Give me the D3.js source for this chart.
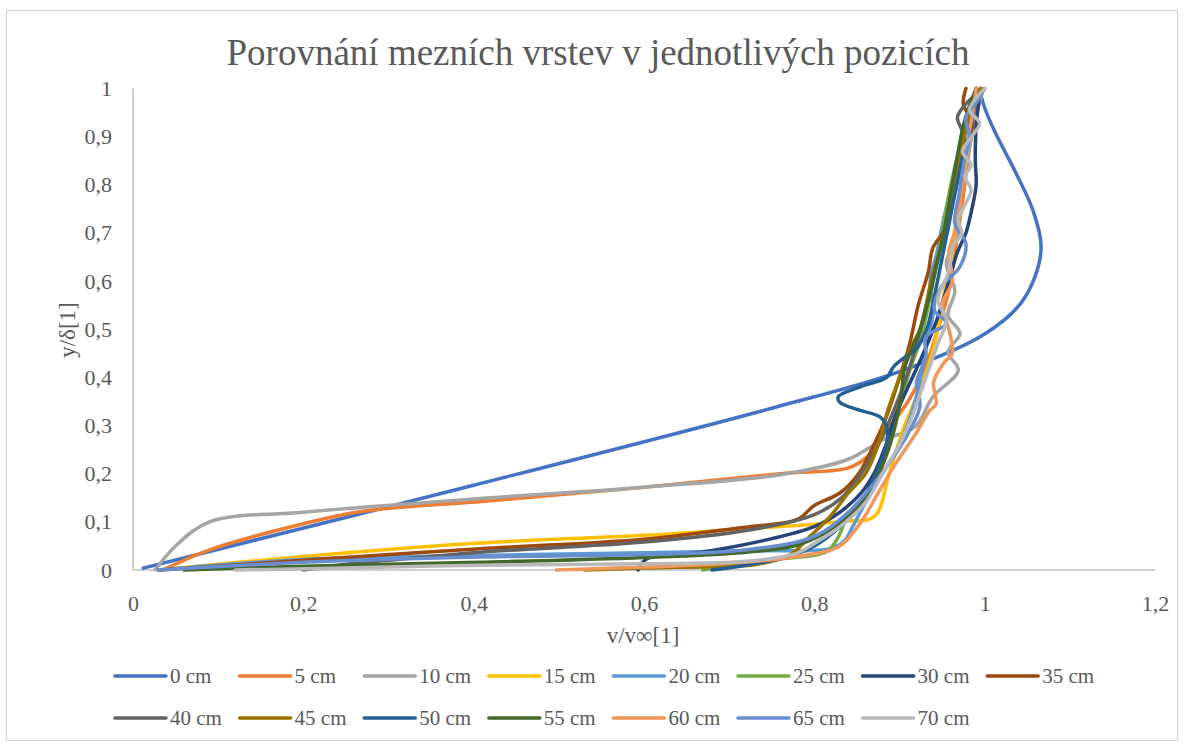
<!DOCTYPE html>
<html>
<head>
<meta charset="utf-8">
<title>Porovnání mezních vrstev</title>
<script src="https://cdn.jsdelivr.net/npm/d3@7/dist/d3.min.js"></script>
<style>
	body { margin: 0; background: #fff; }
	text { font-family: "Liberation Serif", "Times New Roman", serif; fill: #595959; }
	.grid line { stroke: #d9d9d9; stroke-width: 1.3; }
	.domain { display: none; }
	.tick line { display: none; }
</style>
</head>
<body>
<div id="chart"></div>
<script>
// popisky serii (vzdalenost od nabezne hrany)
var seriesNames = ["0 cm","5 cm","10 cm","15 cm","20 cm","25 cm","30 cm","35 cm",
	"40 cm","45 cm","50 cm","55 cm","60 cm","65 cm","70 cm"];
var seriesColors = ["#4472C4","#ED7D31","#A5A5A5","#FFC000","#5B9BD5","#70AD47","#264478","#9E480E",
	"#636363","#997300","#255E91","#43682B","#F1975A","#698ED0","#B9B9B9"];
var xTicks = [0,0.2,0.4,0.6,0.8,1,1.2];
var yTicks = [0,0.1,0.2,0.3,0.4,0.5,0.6,0.7,0.8,0.9,1];

/* [v/v_inf , y/delta] */
var s0 = [[0.012,0.004],[0.4,0.176],[0.75,0.336],[0.9,0.412],[1.0,0.49],[1.045,0.56],[1.066,0.66],[1.058,0.74],[1.038,0.82],[1.012,0.91],[1.0,0.96],[0.995,0.99]];
var s5 = [[0.035,0],[0.09,0.042],[0.2,0.096],[0.27,0.122],[0.42,0.144],[0.6,0.172],[0.76,0.2],[0.84,0.212],[0.862,0.235],[0.885,0.29],[0.91,0.35],[0.93,0.42],[0.945,0.5],[0.958,0.58],[0.965,0.66],[0.972,0.74],[0.978,0.82],[0.984,0.9],[0.99,0.96],[0.995,1.0]];
var s10 = [[0.026,0],[0.05,0.05],[0.09,0.1],[0.2,0.12],[0.42,0.15],[0.6,0.172],[0.76,0.198],[0.84,0.23],[0.88,0.27],[0.918,0.297],[0.939,0.359],[0.969,0.415],[0.957,0.453],[0.971,0.491],[0.957,0.529],[0.965,0.58],[0.955,0.637],[0.968,0.7],[0.972,0.78],[0.98,0.86],[0.99,0.94],[0.998,1.0]];
var s15 = [[0.03,0],[0.2,0.028],[0.407,0.056],[0.6,0.072],[0.72,0.086],[0.8,0.095],[0.84,0.102],[0.862,0.104],[0.874,0.118],[0.888,0.2],[0.904,0.29],[0.92,0.36],[0.935,0.43],[0.945,0.5],[0.952,0.57],[0.96,0.64],[0.966,0.72],[0.973,0.8],[0.98,0.88],[0.986,0.95],[0.99,1.0]];
var s20 = [[0.03,0],[0.2,0.022],[0.4,0.03],[0.6,0.036],[0.72,0.04],[0.82,0.045],[0.835,0.06],[0.845,0.09],[0.86,0.14],[0.88,0.2],[0.9,0.26],[0.915,0.33],[0.925,0.4],[0.932,0.47],[0.94,0.54],[0.936,0.6],[0.944,0.66],[0.952,0.73],[0.962,0.8],[0.972,0.87],[0.982,0.94],[0.99,1.0]];
var s25 = [[0.669,0],[0.681,0.003],[0.76,0.023],[0.814,0.038],[0.828,0.068],[0.836,0.1],[0.85,0.13],[0.868,0.18],[0.882,0.24],[0.893,0.3],[0.903,0.36],[0.913,0.42],[0.925,0.48],[0.934,0.55],[0.942,0.62],[0.95,0.7],[0.958,0.78],[0.968,0.86],[0.978,0.93],[0.99,1.0]];
var s30 = [[0.593,0],[0.603,0.023],[0.66,0.035],[0.74,0.061],[0.8,0.09],[0.83,0.12],[0.855,0.16],[0.87,0.2],[0.882,0.25],[0.895,0.32],[0.91,0.38],[0.928,0.45],[0.944,0.52],[0.958,0.6],[0.968,0.66],[0.978,0.7],[0.985,0.75],[0.99,0.8],[0.989,0.85],[0.99,0.92],[0.995,1.0]];
var s35 = [[0.03,0],[0.2,0.02],[0.407,0.044],[0.6,0.064],[0.72,0.089],[0.78,0.105],[0.8,0.134],[0.83,0.16],[0.852,0.2],[0.87,0.26],[0.885,0.32],[0.9,0.4],[0.912,0.47],[0.922,0.55],[0.934,0.62],[0.939,0.668],[0.955,0.713],[0.962,0.78],[0.972,0.85],[0.986,0.93],[0.975,0.966],[0.978,1.0]];
var s40 = [[0.2,0],[0.25,0.012],[0.3,0.02],[0.407,0.037],[0.6,0.058],[0.72,0.082],[0.8,0.115],[0.832,0.15],[0.855,0.2],[0.875,0.26],[0.893,0.33],[0.908,0.4],[0.92,0.47],[0.93,0.54],[0.94,0.61],[0.95,0.68],[0.958,0.75],[0.968,0.82],[0.977,0.88],[0.974,0.91],[0.968,0.94],[0.977,0.966],[0.995,0.995]];
var s45 = [[0.53,0],[0.6,0.004],[0.7,0.008],[0.73,0.011],[0.77,0.03],[0.795,0.07],[0.818,0.11],[0.84,0.16],[0.86,0.2],[0.875,0.26],[0.886,0.33],[0.9,0.4],[0.913,0.46],[0.924,0.5],[0.93,0.54],[0.937,0.6],[0.947,0.66],[0.955,0.72],[0.962,0.79],[0.97,0.86],[0.982,0.94],[0.995,1.0]];
var s50 = [[0.68,0],[0.72,0.01],[0.77,0.028],[0.8,0.05],[0.83,0.09],[0.855,0.14],[0.872,0.2],[0.884,0.25],[0.885,0.297],[0.877,0.318],[0.853,0.332],[0.83,0.348],[0.828,0.36],[0.853,0.38],[0.885,0.4],[0.893,0.422],[0.905,0.44],[0.918,0.456],[0.932,0.5],[0.94,0.56],[0.948,0.63],[0.956,0.7],[0.965,0.78],[0.975,0.86],[0.985,0.93],[0.99,1.0]];
var s55 = [[0.06,0],[0.2,0.008],[0.407,0.016],[0.6,0.026],[0.72,0.037],[0.78,0.052],[0.82,0.085],[0.85,0.13],[0.87,0.18],[0.885,0.24],[0.895,0.3],[0.902,0.36],[0.906,0.42],[0.924,0.498],[0.934,0.56],[0.943,0.63],[0.952,0.7],[0.96,0.78],[0.968,0.86],[0.976,0.93],[0.99,1.0]];
var s60 = [[0.497,0],[0.6,0.006],[0.7,0.014],[0.78,0.028],[0.83,0.05],[0.855,0.1],[0.875,0.16],[0.895,0.22],[0.918,0.28],[0.935,0.33],[0.943,0.345],[0.94,0.39],[0.952,0.43],[0.962,0.45],[0.958,0.5],[0.95,0.55],[0.962,0.6],[0.958,0.66],[0.968,0.72],[0.972,0.78],[0.976,0.84],[0.981,0.9],[0.986,0.95],[0.99,1.0]];
var s65 = [[0.03,0],[0.2,0.016],[0.407,0.027],[0.6,0.032],[0.72,0.042],[0.8,0.07],[0.84,0.12],[0.87,0.18],[0.895,0.24],[0.912,0.29],[0.924,0.34],[0.92,0.39],[0.931,0.442],[0.931,0.484],[0.955,0.512],[0.941,0.54],[0.949,0.588],[0.971,0.63],[0.978,0.678],[0.965,0.72],[0.97,0.78],[0.975,0.84],[0.982,0.9],[0.978,0.94],[0.992,0.975],[1.0,1.0]];
var s70 = [[0.12,0],[0.3,0.006],[0.407,0.01],[0.6,0.013],[0.72,0.018],[0.78,0.035],[0.8,0.055],[0.83,0.09],[0.86,0.14],[0.88,0.2],[0.9,0.26],[0.915,0.32],[0.925,0.37],[0.935,0.42],[0.945,0.47],[0.955,0.52],[0.945,0.56],[0.958,0.62],[0.962,0.67],[0.973,0.699],[0.969,0.727],[0.984,0.789],[0.977,0.817],[0.984,0.841],[0.974,0.869],[0.986,0.903],[0.994,0.928],[0.982,0.955],[0.99,0.98],[1.0,1.0]];
var seriesData = [s0,s5,s10,s15,s20,s25,s30,s35,s40,s45,s50,s55,s60,s65,s70];

var W = 1184, H = 744;
var plot = {left: 133, right: 1155, top: 88.5, bottom: 570};

var svg = d3.select("#chart").append("svg").attr("width", W).attr("height", H);
svg.append("rect").attr("x", 6.5).attr("y", 10.5).attr("width", 1171).attr("height", 730)
	.attr("fill", "#fff").attr("stroke", "#d9d9d9").attr("stroke-width", 1.3);

var x = d3.scaleLinear().domain([0, 1.2]).range([plot.left, plot.right]);
var y = d3.scaleLinear().domain([0, 1]).range([plot.bottom, plot.top]);

/* mrizka */
svg.append("g").attr("class", "grid")
	.attr("transform", "translate(0," + plot.bottom + ")")
	.call(d3.axisBottom(x).tickValues(xTicks).tickSize(-(plot.bottom - plot.top)).tickFormat(""));
svg.append("g").attr("class", "grid")
	.attr("transform", "translate(" + plot.left + ",0)")
	.call(d3.axisLeft(y).tickValues(yTicks).tickSize(-(plot.right - plot.left)).tickFormat(""));

/* osy */
svg.append("line").attr("x1", plot.left).attr("x2", plot.right).attr("y1", plot.bottom).attr("y2", plot.bottom)
	.attr("stroke", "#bfbfbf").attr("stroke-width", 1.5);
svg.append("line").attr("x1", plot.left).attr("x2", plot.left).attr("y1", plot.top).attr("y2", plot.bottom)
	.attr("stroke", "#bfbfbf").attr("stroke-width", 1.5);

var fmt = function(d){ return String(d).replace(".", ","); };
var xAxis = svg.append("g").attr("transform", "translate(0," + plot.bottom + ")")
	.call(d3.axisBottom(x).tickValues(xTicks).tickSize(0).tickPadding(25).tickFormat(fmt));
xAxis.selectAll("text").style("font-size", "22px").attr("fill", "#595959");
var yAxis = svg.append("g").attr("transform", "translate(" + plot.left + ",0)")
	.call(d3.axisLeft(y).tickValues(yTicks).tickSize(0).tickPadding(21).tickFormat(fmt));
yAxis.selectAll("text").style("font-size", "22px").attr("fill", "#595959");

/* krivky */
var line = d3.line().curve(d3.curveCatmullRom.alpha(0.5))
	.x(function(d){ return x(d[0]); }).y(function(d){ return y(d[1]); });
svg.append("g").selectAll("path").data(seriesData).enter().append("path")
	.attr("d", line)
	.attr("fill", "none")
	.attr("stroke", function(d, i){ return seriesColors[i]; })
	.attr("stroke-width", 3.5)
	.attr("stroke-linejoin", "round")
	.attr("stroke-linecap", "round");

/* titulky */
svg.append("text").attr("x", 598).attr("y", 65).attr("text-anchor", "middle")
	.style("font-size", "37px").text("Porovnání mezních vrstev v jednotlivých pozicích");
svg.append("text").attr("x", 643).attr("y", 643).attr("text-anchor", "middle")
	.style("font-size", "23px").text("v/v∞[1]");
svg.append("text").attr("transform", "translate(75,330) rotate(-90)").attr("text-anchor", "middle")
	.style("font-size", "23px").text("y/δ[1]");

/* legenda */
var leg = svg.append("g").selectAll("g").data(seriesNames).enter().append("g")
	.attr("transform", function(d, i){
		return "translate(" + (115 + (i % 8) * 124.6) + "," + (i < 8 ? 676 : 718) + ")";
	});
leg.append("line").attr("x1", 0).attr("x2", 51).attr("y1", 0).attr("y2", 0)
	.attr("stroke", function(d, i){ return seriesColors[i]; })
	.attr("stroke-width", 3.5).attr("stroke-linecap", "round");
leg.append("text").attr("x", 55).attr("y", 0).attr("dy", "0.35em")
	.style("font-size", "21px").text(function(d){ return d; });
</script>
</body>
</html>
